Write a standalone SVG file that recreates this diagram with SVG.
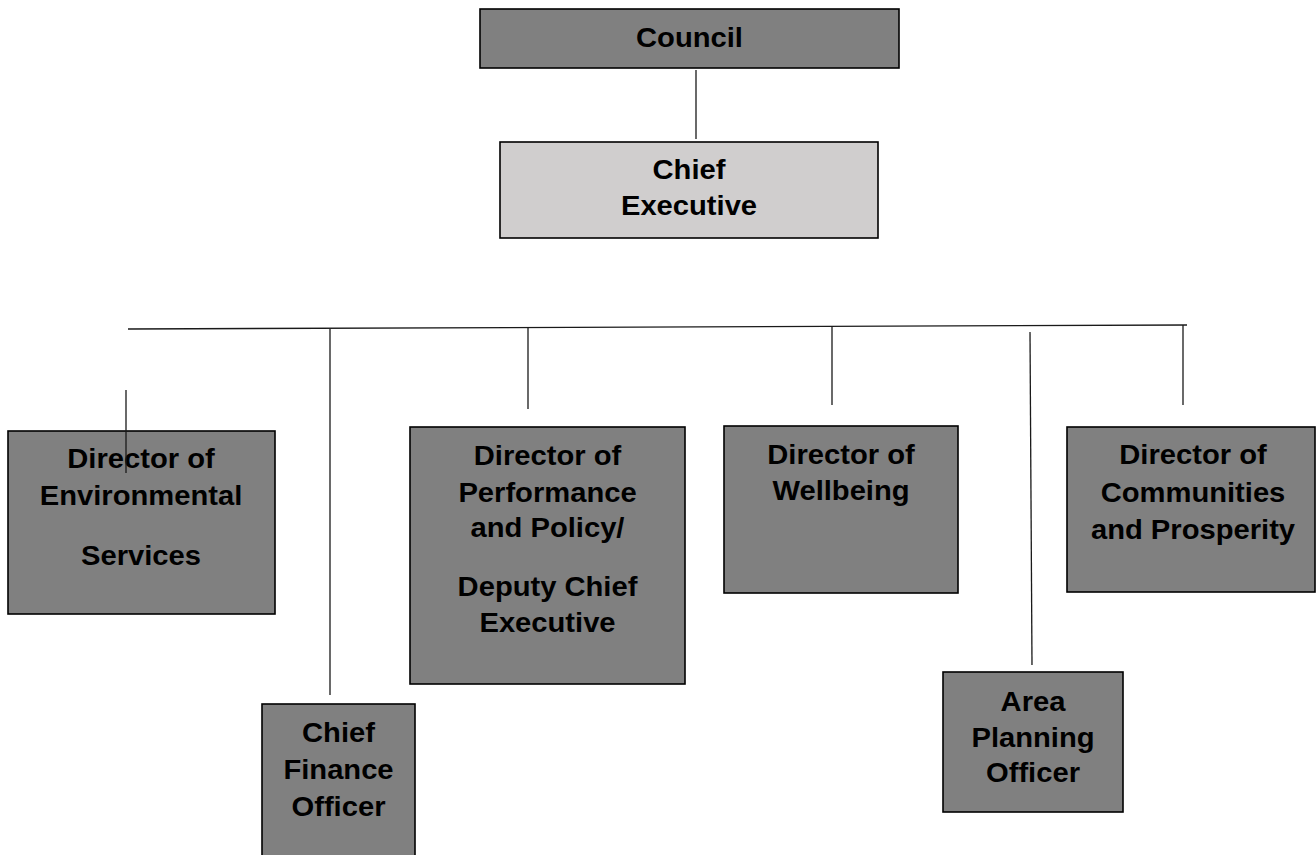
<svg xmlns="http://www.w3.org/2000/svg" width="1316" height="855" viewBox="0 0 1316 855">
<style>
.box{fill:#808080;stroke:#000;stroke-width:1.6}
.light{fill:#d0cece;stroke:#000;stroke-width:1.6}
.ln{stroke:#1a1a1a;stroke-width:1.3;fill:none}
text{font-family:"Liberation Sans",Arial,sans-serif;font-weight:bold;font-size:27px;fill:#000;text-anchor:middle}
</style>
<rect width="1316" height="855" fill="#fff"/>
<g id="connectors">
<line class="ln" x1="696" y1="70" x2="696" y2="139"/>
<line class="ln" x1="128" y1="329" x2="1187" y2="325"/>
<line class="ln" x1="330" y1="329" x2="330" y2="695"/>
<line class="ln" x1="528" y1="327" x2="528" y2="409"/>
<line class="ln" x1="832" y1="326" x2="832" y2="405"/>
<line class="ln" x1="1030" y1="332" x2="1032" y2="665"/>
<line class="ln" x1="1183" y1="325" x2="1183" y2="405"/>
</g>
<g id="council">
<rect class="box" x="480" y="9" width="419" height="59"/>
<g transform="translate(689.5 0) scale(1.08 1)"><text x="0" y="47">Council</text></g>
</g>
<g id="chief-executive">
<rect class="light" x="500" y="142" width="378" height="96"/>
<g transform="translate(689 0) scale(1.08 1)"><text x="0" y="179">Chief</text><text x="0" y="215">Executive</text></g>
</g>
<g id="env-services">
<rect class="box" x="8" y="431" width="267" height="183"/>
<g transform="translate(141 0) scale(1.08 1)"><text x="0" y="468">Director of</text><text x="0" y="505">Environmental</text><text x="0" y="565">Services</text></g>
</g>
<line class="ln" x1="126" y1="390" x2="126" y2="473"/>
<g id="cfo">
<rect class="box" x="262" y="704" width="153" height="160"/>
<g transform="translate(338.5 0) scale(1.08 1)"><text x="0" y="742">Chief</text><text x="0" y="779">Finance</text><text x="0" y="816">Officer</text></g>
</g>
<g id="performance">
<rect class="box" x="410" y="427" width="275" height="257"/>
<g transform="translate(547.5 0) scale(1.08 1)"><text x="0" y="465">Director of</text><text x="0" y="502">Performance</text><text x="0" y="537">and Policy/</text><text x="0" y="596">Deputy Chief</text><text x="0" y="632">Executive</text></g>
</g>
<g id="wellbeing">
<rect class="box" x="724" y="426" width="234" height="167"/>
<g transform="translate(841 0) scale(1.08 1)"><text x="0" y="464">Director of</text><text x="0" y="500">Wellbeing</text></g>
</g>
<g id="area-planning">
<rect class="box" x="943" y="672" width="180" height="140"/>
<g transform="translate(1033 0) scale(1.08 1)"><text x="0" y="711">Area</text><text x="0" y="747">Planning</text><text x="0" y="782">Officer</text></g>
</g>
<g id="communities">
<rect class="box" x="1067" y="427" width="248" height="165"/>
<g transform="translate(1193 0) scale(1.08 1)"><text x="0" y="464">Director of</text><text x="0" y="502">Communities</text><text x="0" y="539">and Prosperity</text></g>
</g>
</svg>
